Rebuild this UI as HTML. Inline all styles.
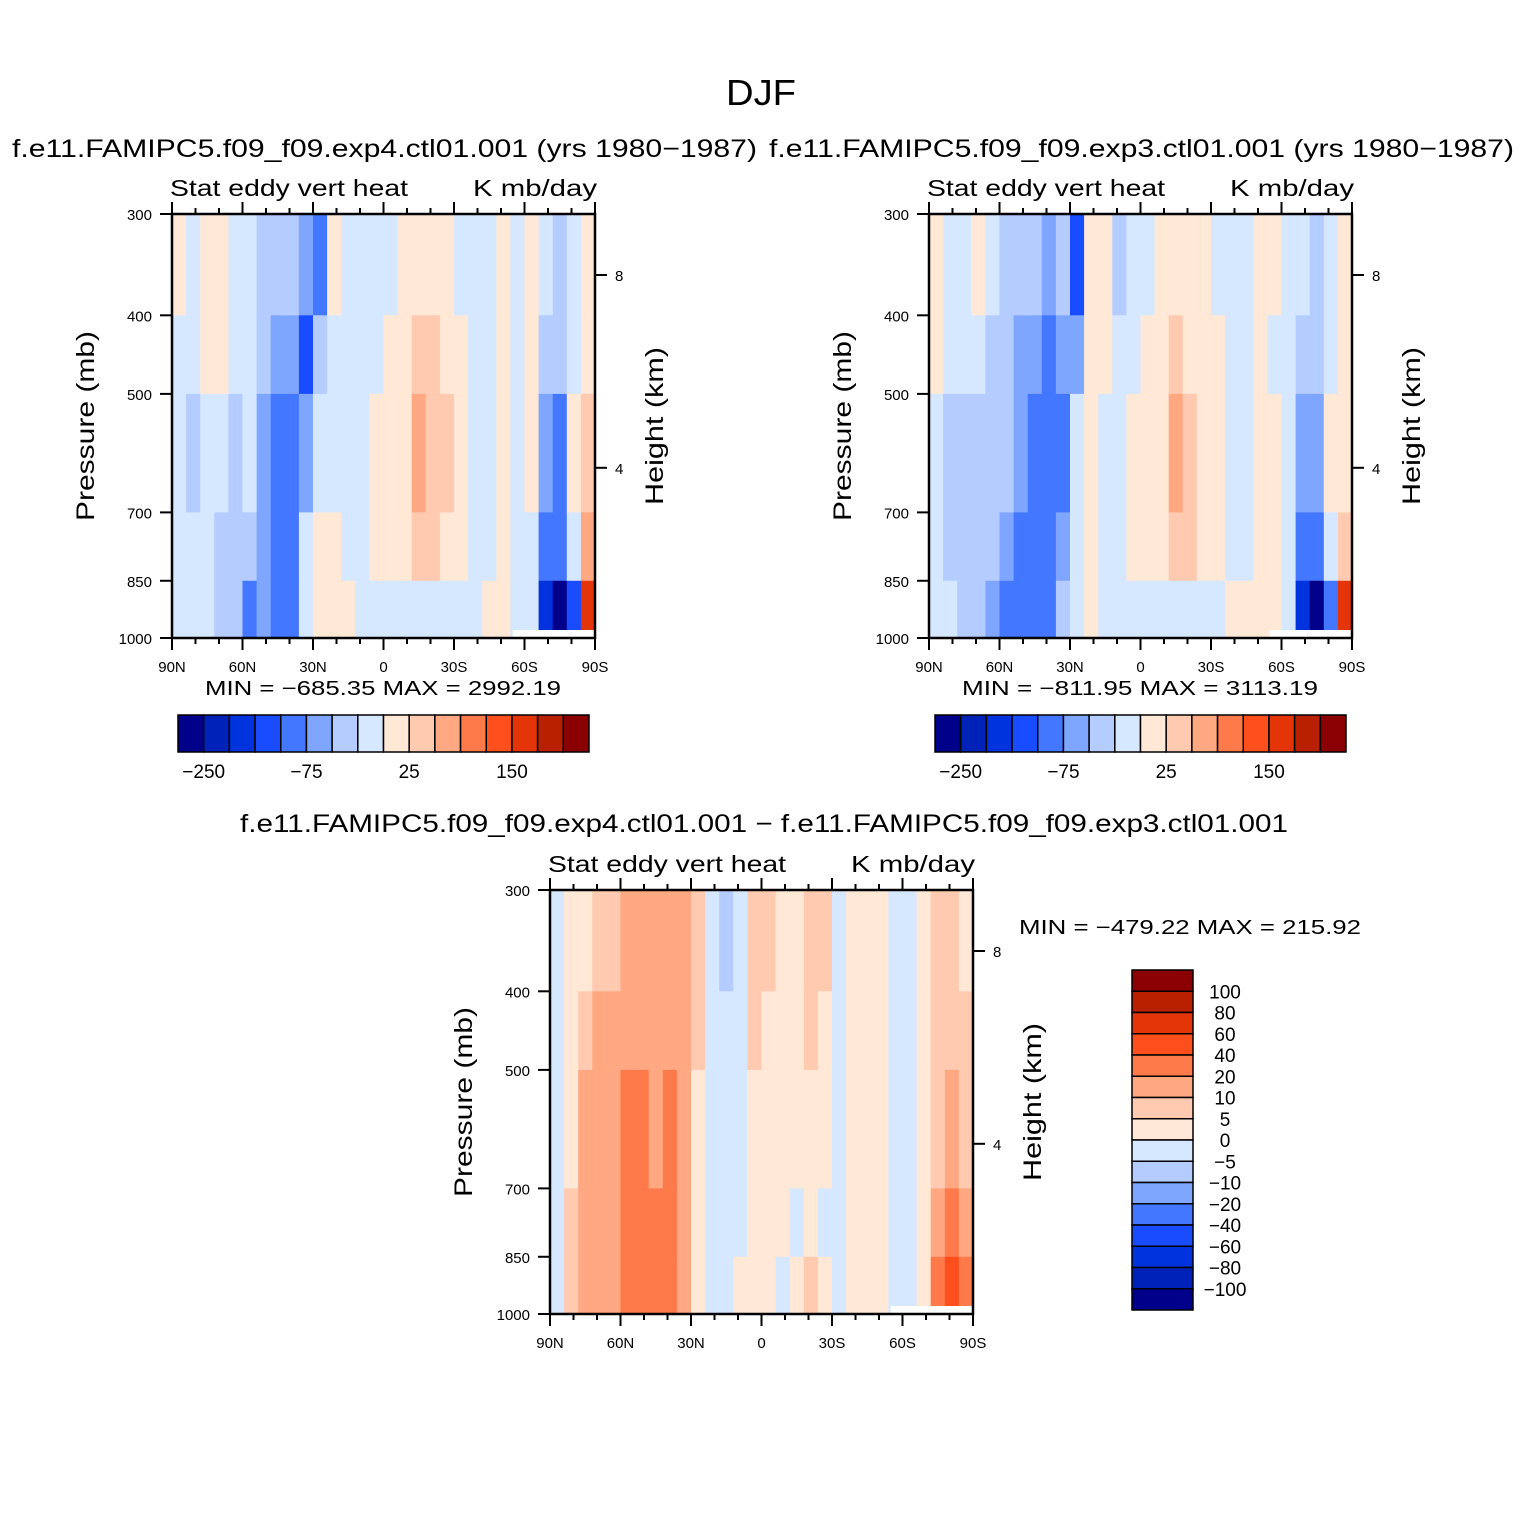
<!DOCTYPE html>
<html><head><meta charset="utf-8">
<style>
html,body{margin:0;padding:0;background:#fff;}
svg{display:block;font-family:"Liberation Sans",sans-serif;}
.t{fill:#000;}
</style></head>
<body>
<svg id="fig" width="1524" height="1524" viewBox="0 0 1524 1524" xmlns="http://www.w3.org/2000/svg">
<rect width="1524" height="1524" fill="#fff"/>
<text x="726" y="105" font-size="36" textLength="70" lengthAdjust="spacingAndGlyphs" class="t">DJF</text>
<text x="12" y="157" font-size="25" textLength="745" lengthAdjust="spacingAndGlyphs" class="t">f.e11.FAMIPC5.f09_f09.exp4.ctl01.001  (yrs  1980−1987)</text>
<text x="769" y="157" font-size="25" textLength="745" lengthAdjust="spacingAndGlyphs" class="t">f.e11.FAMIPC5.f09_f09.exp3.ctl01.001  (yrs  1980−1987)</text>
<text x="240" y="832" font-size="25" textLength="1048" lengthAdjust="spacingAndGlyphs" class="t">f.e11.FAMIPC5.f09_f09.exp4.ctl01.001  −  f.e11.FAMIPC5.f09_f09.exp3.ctl01.001</text>
<text x="1019" y="934" font-size="20" textLength="342" lengthAdjust="spacingAndGlyphs" class="t">MIN  =  −479.22   MAX  =  215.92</text>
<g id="plots"></g>
</svg>
<script>
// ---- data ----
const pressureEdges = [300, 400, 500, 700, 850, 1000];
const levelsFull = [-250,-200,-150,-100,-75,-50,-25,0,25,50,75,100,150,200,250];
const levelsDiff = [-100,-80,-60,-40,-20,-10,-5,0,5,10,20,40,60,80,100];
const colors = ["#00008b","#0022b8","#0033dd","#1a4cff","#4477ff","#7fa6ff","#b4ccff","#d6e8ff","#ffe8d6","#ffcab0","#ffa882","#ff7a4a","#ff4f1d","#e33508","#b82000","#8b0000"];
const xTickLabels = ["90N","60N","30N","0","30S","60S","90S"];
const pTicks = [300,400,500,700,850,1000];
const hTicks = [8,4];
const fullBarLabels = ["−250","−75","25","150"];
const fullBarLabelIdx = [1,5,9,13];
const diffBarLabels = ["100","80","60","40","20","10","5","0","−5","−10","−20","−40","−60","−80","−100"];

const exp4 = [
[10,-10,-10,-10,-10],[-10,-10,-30,-10,-10],[10,10,-10,-10,-10],[10,10,-10,-30,-30],[-10,-10,-30,-30,-40],
[-10,-10,-10,-30,-80],[-30,-40,-60,-60,-60],[-40,-60,-90,-90,-90],[-30,-60,-90,-90,-80],[-60,-120,-60,-10,-10],
[-80,-40,-10,10,10],[10,-10,-10,10,10],[-10,-10,-10,-10,10],[-10,-10,-10,-10,-10],[-10,-10,10,10,-10],
[-10,10,10,10,-10],[10,10,10,10,-10],[10,30,60,30,-10],[10,30,40,30,-10],[10,10,30,10,-10],
[-10,10,10,10,-10],[-10,-10,-10,-10,-10],[-10,-10,-10,-10,10],[10,10,10,10,10],[-10,-10,-10,-10,-10],
[10,10,10,-10,-10],[-10,-30,-60,-80,-200],[-30,-40,-90,-90,-300],[-10,-10,10,-10,-150],[10,10,30,60,150]];
const exp3 = [
[10,10,-10,-10,-10],[-10,-10,-30,-30,-10],[-10,-10,-30,-30,-30],[10,-10,-30,-30,-30],[-10,-30,-30,-40,-60],
[-30,-40,-40,-60,-80],[-30,-60,-60,-80,-80],[-40,-60,-90,-90,-90],[-60,-80,-90,-90,-90],[-30,-60,-80,-60,-40],
[-120,-60,-10,-10,-10],[10,10,10,10,10],[10,10,-10,-10,-10],[-30,-10,-10,-10,-10],[-10,-10,10,10,-10],
[-10,10,10,10,-10],[10,10,10,10,-10],[10,30,60,30,-10],[10,10,30,30,-10],[10,10,10,10,-10],
[-10,10,10,10,-10],[-10,-10,-10,-10,10],[-10,-10,-10,-10,10],[10,10,10,10,10],[10,-10,10,10,10],
[-10,-10,-10,-10,-10],[-10,-30,-60,-80,-200],[-30,-40,-60,-90,-300],[-10,-10,10,-10,-80],[10,10,10,40,150]];
const diff = [
[-3,-3,-3,-3,-3],[3,3,3,7,7],[3,7,15,15,10],[7,15,15,15,10],[7,15,15,15,10],
[15,15,25,25,25],[15,15,25,25,25],[15,15,15,25,25],[15,15,25,25,25],[15,15,15,15,10],
[7,7,3,3,3],[-3,-3,-3,-3,-3],[-8,-3,-3,-3,-3],[-3,-3,-3,-3,3],[7,7,3,3,3],
[7,3,3,3,3],[3,3,3,3,-3],[3,3,3,-3,3],[7,7,3,3,7],[7,3,3,-3,3],
[-3,-3,-3,-3,-3],[3,3,3,3,3],[3,3,3,3,3],[3,3,3,3,3],[-3,-3,-3,-3,-3],
[-3,-3,-3,-3,-3],[3,3,3,3,3],[7,7,7,15,25],[7,7,15,25,40],[3,7,7,15,30]];

const NS="http://www.w3.org/2000/svg";
const root=document.getElementById('plots');
function mk(tag,attrs,parent){const e=document.createElementNS(NS,tag);for(const k in attrs)e.setAttribute(k,attrs[k]);(parent||root).appendChild(e);return e;}
function colorFor(v,lev){let i=0;while(i<lev.length&&v>=lev[i])i++;return colors[i];}

function panel(px,py,data,lev,name){
  const W=423,H=424;
  const xs=lat=>px+(90-lat)/180*W;
  const ys=p=>py+H*Math.log(p/300)/Math.log(1000/300);
  const yh=h=>py+61+(8-h)*48.2;
  const g=mk('g',{});
  
  
  const n=data.length;
  data.forEach((col,ci)=>{
    const lat0=90-ci*180/n, lat1=90-(ci+1)*180/n;
    col.forEach((v,ri)=>{
      const r=mk('rect',{x:xs(lat0),y:ys(pressureEdges[ri]),width:xs(lat1)-xs(lat0)+0.6,height:ys(pressureEdges[ri+1])-ys(pressureEdges[ri])+0.6,fill:colorFor(v,lev)},g);
      
      
    });
  });
  mk('rect',{x:xs(-55),y:py+H-8,width:xs(-90)-xs(-55),height:8,fill:'#fff'},g);
  mk('rect',{x:px,y:py,width:W,height:H,fill:'none',stroke:'#000','stroke-width':2.5},g);
  for(let lat=90;lat>=-90;lat-=10){
    const maj=lat%30===0, L=maj?12:6, x=xs(lat);
    mk('line',{x1:x,x2:x,y1:py+H,y2:py+H+L,stroke:'#000','stroke-width':2},g);
    mk('line',{x1:x,x2:x,y1:py,y2:py-L,stroke:'#000','stroke-width':2},g);
  }
  xTickLabels.forEach((s,i)=>{
    const t=mk('text',{x:xs(90-30*i),y:py+H+34,'font-size':15,'text-anchor':'middle',class:'t'},g);t.textContent=s;
    
  });
  pTicks.forEach(p=>{
    const y=ys(p);
    mk('line',{x1:px,x2:px-12,y1:y,y2:y,stroke:'#000','stroke-width':2},g);
    const t=mk('text',{x:px-20,y:y+6,'font-size':15,'text-anchor':'end',class:'t'},g);t.textContent=p;
    
  });
  hTicks.forEach(h=>{
    const y=yh(h);
    mk('line',{x1:px+W,x2:px+W+12,y1:y,y2:y,stroke:'#000','stroke-width':2},g);
    const t=mk('text',{x:px+W+20,y:y+6,'font-size':15,class:'t'},g);t.textContent=h;
    
  });
  let t=mk('text',{x:px-2,y:py-18,'font-size':23,textLength:238,lengthAdjust:'spacingAndGlyphs',class:'t'},g);t.textContent='Stat  eddy  vert  heat';
  
  t=mk('text',{x:px+W-122,y:py-18,'font-size':23,textLength:124,lengthAdjust:'spacingAndGlyphs',class:'t'},g);t.textContent='K  mb/day';
  
  t=mk('text',{x:0,y:0,'font-size':25,'text-anchor':'middle',textLength:190,lengthAdjust:'spacingAndGlyphs',class:'t',transform:`translate(${px-78},${py+H/2}) rotate(-90)`},g);t.textContent='Pressure (mb)';
  
  t=mk('text',{x:0,y:0,'font-size':25,'text-anchor':'middle',textLength:158,lengthAdjust:'spacingAndGlyphs',class:'t',transform:`translate(${px+W+68},${py+H/2}) rotate(-90)`},g);t.textContent='Height (km)';
  
}

function hbar(x0,y0,minmax,name){
  const g=mk('g',{});
  
  
  const bw=411/16;
  colors.forEach((c,i)=>{
    const r=mk('rect',{x:x0+i*bw,y:y0,width:bw,height:37,fill:c,stroke:'#000','stroke-width':1.5},g);
    
  });
  fullBarLabels.forEach((s,i)=>{
    const t=mk('text',{x:x0+fullBarLabelIdx[i]*bw,y:y0+63,'font-size':19,'text-anchor':'middle',class:'t'},g);t.textContent=s;
    
  });
  const t=mk('text',{x:x0+27,y:y0-20,'font-size':20,textLength:356,lengthAdjust:'spacingAndGlyphs',class:'t'},g);t.textContent=minmax;
  
}

panel(172,214,exp4,levelsFull,'exp4-panel');
panel(929,214,exp3,levelsFull,'exp3-panel');
panel(550,890,diff,levelsDiff,'diff-panel');
hbar(178,715,'MIN  =  −685.35    MAX  =  2992.19','exp4-colorbar');
hbar(935,715,'MIN  =  −811.95    MAX  =  3113.19','exp3-colorbar');

const vg=mk('g',{});


const bh=340/16;
for(let i=0;i<16;i++){
  const r=mk('rect',{x:1132,y:970+i*bh,width:61,height:bh,fill:colors[15-i],stroke:'#000','stroke-width':1.5},vg);
  
}
diffBarLabels.forEach((s,i)=>{
  const t=mk('text',{x:1225,y:970+(i+1)*bh+7,'font-size':19,'text-anchor':'middle',class:'t'},vg);t.textContent=s;
  
});
</script>
</body></html>
